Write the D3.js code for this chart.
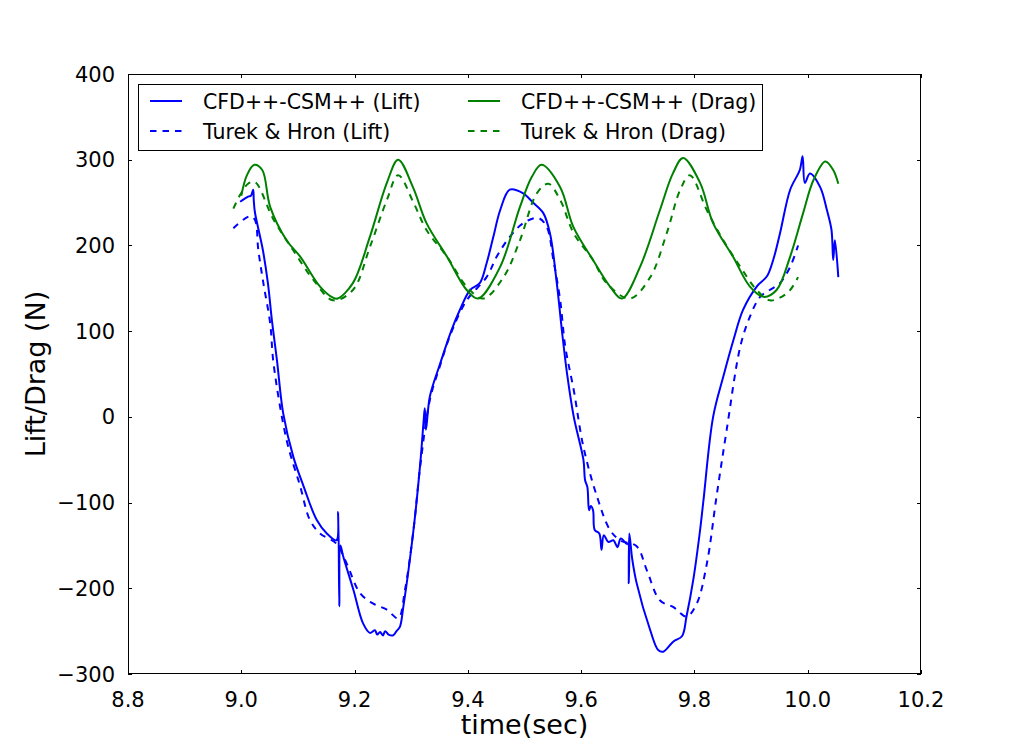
<!DOCTYPE html>
<html>
<head>
<meta charset="utf-8">
<script src="https://cdn.jsdelivr.net/npm/d3@7"></script>
<style>
  html, body { margin: 0; padding: 0; background: #fff; }
  svg { display: block; font-family: "DejaVu Sans", sans-serif; }
</style>
</head>
<body>
<div id="chart"></div>
<script>
// Series: [time (s), force (N)]
const liftCfd = [
    [8.998, 251], [9.012, 257], [9.017, 258], [9.021, 265], [9.022, 253], [9.024, 239],
    [9.038, 195], [9.047, 156], [9.054, 113], [9.063, 66], [9.074, 4], [9.092, -47],
    [9.110, -81], [9.133, -120], [9.151, -136], [9.168, -144], [9.171, -111], [9.173, -221],
    [9.175, -150], [9.180, -163], [9.198, -202], [9.215, -241], [9.227, -252], [9.236, -249],
    [9.240, -254], [9.245, -251], [9.250, -255], [9.254, -250], [9.260, -254], [9.268, -255],
    [9.274, -250], [9.280, -245], [9.286, -222],
    [9.304, -132], [9.316, -54], [9.322, -4], [9.324, 10], [9.326, -15], [9.333, 24],
    [9.351, 62], [9.371, 101], [9.386, 125], [9.404, 148], [9.421, 156], [9.433, 179],
    [9.445, 210], [9.457, 241], [9.474, 265], [9.497, 261], [9.515, 250], [9.533, 238],
    [9.545, 214], [9.557, 156], [9.566, 101], [9.575, 51], [9.587, 0], [9.604, -50],
    [9.607, -74], [9.611, -82], [9.614, -109], [9.617, -104], [9.621, -109], [9.624, -132],
    [9.632, -136], [9.636, -155], [9.640, -138], [9.648, -146], [9.657, -144], [9.664, -152],
    [9.670, -142], [9.680, -148], [9.683, -148], [9.684, -194],
    [9.685, -136], [9.690, -165], [9.698, -194], [9.722, -249], [9.736, -272], [9.745, -274],
    [9.763, -262], [9.778, -256], [9.786, -233], [9.798, -190], [9.810, -132], [9.816, -97],
    [9.833, 0], [9.851, 47], [9.869, 90], [9.886, 125], [9.910, 152], [9.928, 164],
    [9.939, 183], [9.951, 214], [9.969, 265], [9.986, 288], [9.991, 304], [9.995, 273],
    [10.004, 284], [10.022, 268], [10.034, 241], [10.042, 218], [10.045, 183], [10.048, 206],
    [10.054, 163]
];

const liftRef = [
    [8.986, 220], [9.015, 234], [9.024, 230], [9.030, 195], [9.039, 156], [9.051, 109],
    [9.057, 62], [9.080, -27], [9.104, -81], [9.121, -120], [9.139, -136], [9.168, -148],
    [9.186, -171], [9.210, -206], [9.233, -218], [9.257, -225], [9.277, -235], [9.289, -202],
    [9.304, -132], [9.316, -57], [9.333, 20], [9.351, 60], [9.371, 99], [9.398, 136],
    [9.433, 163], [9.451, 187], [9.474, 210], [9.498, 226], [9.524, 232], [9.539, 222],
    [9.551, 183], [9.563, 136], [9.572, 82], [9.587, 31], [9.604, -35], [9.628, -93],
    [9.651, -132], [9.669, -144], [9.698, -151], [9.716, -179], [9.739, -214], [9.763, -222],
    [9.786, -233], [9.804, -218], [9.822, -171], [9.839, -93], [9.857, -15], [9.881, 82],
    [9.898, 117], [9.916, 140], [9.933, 148], [9.951, 156], [9.969, 175], [9.983, 200]
];

const dragCfd = [
    [9.000, 258], [9.010, 282], [9.023, 294], [9.037, 288], [9.051, 245], [9.080, 206],
    [9.104, 187], [9.139, 152], [9.162, 139], [9.170, 138], [9.197, 156], [9.227, 210],
    [9.257, 273], [9.277, 300], [9.303, 268], [9.327, 226], [9.363, 187], [9.398, 148],
    [9.418, 138], [9.457, 175], [9.492, 245], [9.513, 280], [9.530, 294], [9.563, 268],
    [9.586, 222], [9.621, 183], [9.651, 152], [9.672, 138], [9.704, 175], [9.739, 241],
    [9.762, 284], [9.780, 302], [9.810, 273], [9.833, 226], [9.868, 187], [9.898, 152],
    [9.922, 140], [9.945, 148], [9.969, 187], [9.992, 238], [10.010, 276], [10.031, 298],
    [10.045, 288], [10.054, 272]
];

const dragRef = [
    [8.986, 243], [8.998, 259], [9.012, 272], [9.024, 274], [9.057, 230], [9.091, 195],
    [9.127, 160], [9.162, 136], [9.197, 148], [9.227, 198], [9.257, 253], [9.277, 282],
    [9.304, 250], [9.327, 218], [9.363, 187], [9.398, 152], [9.427, 138], [9.463, 163],
    [9.492, 206], [9.522, 261], [9.542, 272], [9.563, 253], [9.587, 214], [9.621, 183],
    [9.645, 156], [9.686, 138], [9.722, 163], [9.751, 214], [9.775, 265], [9.792, 282],
    [9.822, 241], [9.851, 206], [9.881, 175], [9.910, 148], [9.933, 136], [9.951, 139],
    [9.969, 148], [9.983, 163]
];

const xTicks = [8.8, 9.0, 9.2, 9.4, 9.6, 9.8, 10.0, 10.2];
const yTicks = [-300, -200, -100, 0, 100, 200, 300, 400];

const series = [
    { name: "CFD++-CSM++ (Lift)", data: liftCfd, color: "#0000ff", dash: null },
    { name: "Turek & Hron (Lift)", data: liftRef, color: "#0000ff", dash: "6.5,6" },
    { name: "CFD++-CSM++ (Drag)", data: dragCfd, color: "#008000", dash: null },
    { name: "Turek & Hron (Drag)", data: dragRef, color: "#008000", dash: "6.5,6" }
];

const width = 1024, height = 750;
const plot = { left: 128, right: 921, top: 74, bottom: 674 };

const svg = d3.select("#chart").append("svg")
    .attr("width", width)
    .attr("height", height);

svg.append("rect").attr("width", width).attr("height", height).attr("fill", "#fff");

const x = d3.scaleLinear().domain([8.8, 10.2]).range([plot.left, plot.right]);
const y = d3.scaleLinear().domain([-300, 400]).range([plot.bottom, plot.top]);

// inward ticks on all four sides, matplotlib classic look
const tickLen = 4;
const axes = svg.append("g").attr("stroke", "#000").attr("stroke-width", 1);
xTicks.forEach(t => {
    const px = Math.round(x(t)) + 0.5;
    axes.append("line").attr("x1", px).attr("x2", px).attr("y1", plot.bottom).attr("y2", plot.bottom - tickLen);
    axes.append("line").attr("x1", px).attr("x2", px).attr("y1", plot.top).attr("y2", plot.top + tickLen);
});
yTicks.forEach(v => {
    const py = Math.round(y(v)) + 0.5;
    axes.append("line").attr("x1", plot.left).attr("x2", plot.left + tickLen).attr("y1", py).attr("y2", py);
    axes.append("line").attr("x1", plot.right).attr("x2", plot.right - tickLen).attr("y1", py).attr("y2", py);
});

// tick labels
const fmtX = d3.format(".1f");
svg.append("g").selectAll("text")
    .data(xTicks)
    .enter().append("text")
    .attr("x", d => x(d))
    .attr("y", 707)
    .attr("text-anchor", "middle")
    .style("font-size", "21px")
    .text(d => fmtX(d));

svg.append("g").selectAll("text")
    .data(yTicks)
    .enter().append("text")
    .attr("x", 115)
    .attr("y", d => y(d))
    .attr("dy", "0.36em")
    .attr("text-anchor", "end")
    .style("font-size", "21px")
    .text(d => d3.format("d")(d));

// lines
const line = d3.line()
    .x(d => x(d[0]))
    .y(d => y(d[1]))
    .curve(d3.curveCatmullRom.alpha(0.5));

svg.append("g").selectAll("path")
    .data(series)
    .enter().append("path")
    .attr("d", d => line(d.data))
    .attr("fill", "none")
    .attr("stroke", d => d.color)
    .attr("stroke-width", 2)
    .attr("stroke-dasharray", d => d.dash)
    .attr("stroke-linejoin", "round");

// frame
svg.append("rect")
    .attr("x", plot.left + 0.5)
    .attr("y", plot.top + 0.5)
    .attr("width", plot.right - plot.left - 1)
    .attr("height", plot.bottom - plot.top - 1)
    .attr("fill", "none")
    .attr("stroke", "#000")
    .attr("stroke-width", 1);

// axis labels
svg.append("text")
    .attr("x", (plot.left + plot.right) / 2)
    .attr("y", 734)
    .attr("text-anchor", "middle")
    .style("font-size", "27px")
    .text("time(sec)");

svg.append("text")
    .attr("transform", `translate(45,${(plot.top + plot.bottom) / 2}) rotate(-90)`)
    .attr("text-anchor", "middle")
    .style("font-size", "27px")
    .text("Lift/Drag (N)");

// legend (two columns)
const legend = svg.append("g");
legend.append("rect")
    .attr("x", 138.5).attr("y", 84.5)
    .attr("width", 624).attr("height", 66)
    .attr("fill", "#fff")
    .attr("stroke", "#000")
    .attr("stroke-width", 1);

const legendPos = [[150, 101], [150, 131], [468, 101], [468, 131]];
series.forEach((s, i) => {
    const [lx, ly] = legendPos[i];
    legend.append("line")
        .attr("x1", lx).attr("x2", lx + 32)
        .attr("y1", ly).attr("y2", ly)
        .attr("stroke", s.color)
        .attr("stroke-width", 2)
        .attr("stroke-dasharray", s.dash);
    legend.append("text")
        .attr("x", lx + 53)
        .attr("y", ly + 8)
        .style("font-size", "20.5px")
        .text(s.name);
});
</script>
</body>
</html>
